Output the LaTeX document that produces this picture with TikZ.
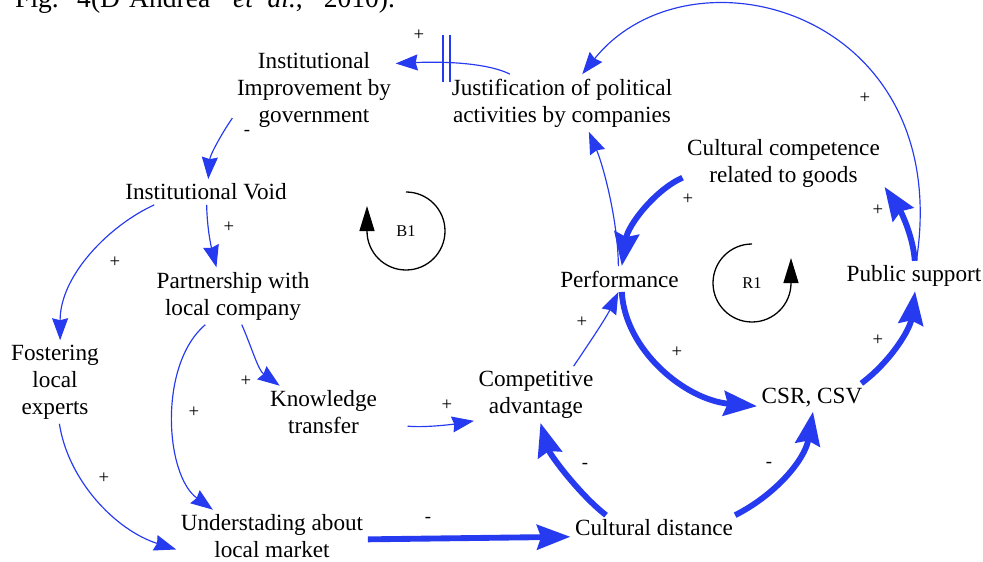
\documentclass[tikz,border=0pt]{standalone}
\usepackage{fontspec}
\setmainfont{Liberation Serif}
\usetikzlibrary{arrows.meta}
\definecolor{cldblue}{RGB}{38,58,240}
\newcommand{\varfont}{\fontsize{19.8}{23}\selectfont}
\newcommand{\signfont}{\fontsize{16}{18}\selectfont}

\begin{document}
\begin{tikzpicture}[
  x=0.03cm, y=-0.03cm,
  var/.style={align=center, font=\varfont, inner sep=4pt, outer sep=0pt},
  sign/.style={font=\signfont, inner sep=1pt},
  thinarr/.style={draw=cldblue, line width=1pt, -{Stealth[length=6.6mm, width=4.8mm, inset=0.6mm]}},
  thickarr/.style={draw=cldblue, line width=5pt, -{Stealth[length=10mm, width=7.4mm, inset=1.2mm]}},
  loopline/.style={draw=black, line width=1.1pt, -{Triangle[length=7.5mm, width=4.5mm]}},
  looplabel/.style={font=\fontsize{14}{16}\selectfont}
]
  \useasboundingbox (0,0) rectangle (983,561);
  \clip (0,0) rectangle (983,561);

  % Caption, cut at the top
  \node[anchor=base west, inner sep=0pt, font=\fontsize{23.5}{26}\selectfont] (caption) at (15,7)
    {Fig.\hspace{15.7pt}4(D'Andrea\hspace{19.6pt}\textit{et}\hspace{12pt}\textit{al.},\hspace{17.9pt}2010).};

  % Variables
  \node[var] (instImp) at (314,90) {Institutional\\Improvement by\\government};
  \node[var] (justif) at (562,103) {Justification of political\\activities by companies};
  \node[var] (cultComp) at (783.5,163.5) {Cultural competence\\related to goods};
  \node[var] (instVoid) at (206,192) {Institutional Void};
  \node[var] (partner) at (233,296) {Partnership with\\local company};
  \node[var] (perf) at (619.5,279) {Performance};
  \node[var] (public) at (914,276) {Public support};
  \node[var] (foster) at (55,382) {Fostering\\local\\experts};
  \node[var] (compAdv) at (536,394.5) {Competitive\\advantage};
  \node[var] (knowledge) at (323.5,412) {Knowledge\\transfer};
  \node[var] (csr) at (812,397.5) {CSR, CSV};
  \node[var] (cultDist) at (654,528) {Cultural distance};
  \node[var] (understand) at (272,536) {Understading about\\local market};

  % Loop markers
  \node[looplabel] (B1) at (406,231) {B1};
  \draw[loopline] (406,192) arc[start angle=-90, end angle=180, radius=39] -- ++(0,-25);
  \node[looplabel] (R1) at (752,283) {R1};
  \draw[loopline] (752,244) arc[start angle=-90, end angle=-360, radius=39] -- ++(0,-25);

  % Links (left part)
  \draw[thinarr] (justif.151) .. controls (490,64) and (450,61) .. (instImp.18);
  \coordinate (delay) at (446.5,61);
  \draw[cldblue, line width=1pt] ([xshift=-0.105cm]delay) ++(0,-26) -- ++(0,47)
    ([xshift=0.105cm]delay) ++(0,-26) -- ++(0,47);
  \draw[thinarr] (instImp.199) .. controls (222,133) and (210,155) .. (instVoid.80);
  \draw[thinarr] (instVoid.273) .. controls (207,230) and (212,250) .. (partner.120);
  \draw[thinarr] (instVoid.194) .. controls (110,225) and (60,275) .. (foster.83);
  \draw[thinarr] (partner.287) .. controls (252,348) and (258,370) .. (knowledge.149);
  \draw[thinarr] (partner.226) .. controls (158,365) and (165,475) .. (understand.156);
  \draw[thinarr] (foster.276) .. controls (68,480) and (115,530) .. (understand.188);
  \draw[thinarr, shorten <=7.8mm] (knowledge.349) .. controls (425,428) and (455,424) .. (compAdv.203);
  \draw[thickarr] (understand.358) -- (cultDist.186);

  % Links (right part)
  \draw[thickarr] (cultDist.165) .. controls (580,495) and (550,455) .. (compAdv.279);
  \draw[thickarr] (cultDist.9) .. controls (775,495) and (805,460) .. (csr.274);
  \draw[thinarr] (compAdv.37) .. controls (588,345) and (606,318) .. (perf.265);
  \draw[thickarr] (perf.280) .. controls (625,350) and (685,400) .. (csr.189);
  \draw[thickarr] (csr.16) .. controls (890,362) and (910,330) .. (public.274);
  \draw[thickarr] (public.87) .. controls (913,235) and (900,210) .. (cultComp.347);
  \draw[thinarr] (public.81) .. controls (955,10) and (690,-60) .. (justif.55);
  \draw[thinarr] (perf.95) .. controls (618,220) and (603,165) .. (justif.313);
  \draw[thickarr] (cultComp.188) .. controls (655,190) and (628,225) .. (perf.80);

  % Polarities
  \node[sign] (s1) at (419,35) {+};
  \node[sign] (s2) at (247,133) {-};
  \node[sign] (s3) at (229,227) {+};
  \node[sign] (s4) at (115,262) {+};
  \node[sign] (s5) at (246,381) {+};
  \node[sign] (s6) at (194,412) {+};
  \node[sign] (s7) at (104,478) {+};
  \node[sign] (s8) at (447,405) {+};
  \node[sign] (s9) at (428,520) {-};
  \node[sign] (s10) at (585,466) {-};
  \node[sign] (s11) at (769,465) {-};
  \node[sign] (s12) at (582,322) {+};
  \node[sign] (s13) at (677,352) {+};
  \node[sign] (s14) at (878,340) {+};
  \node[sign] (s15) at (878,210) {+};
  \node[sign] (s16) at (865,98) {+};
  \node[sign] (s17) at (688,199) {+};
\end{tikzpicture}
\end{document}
